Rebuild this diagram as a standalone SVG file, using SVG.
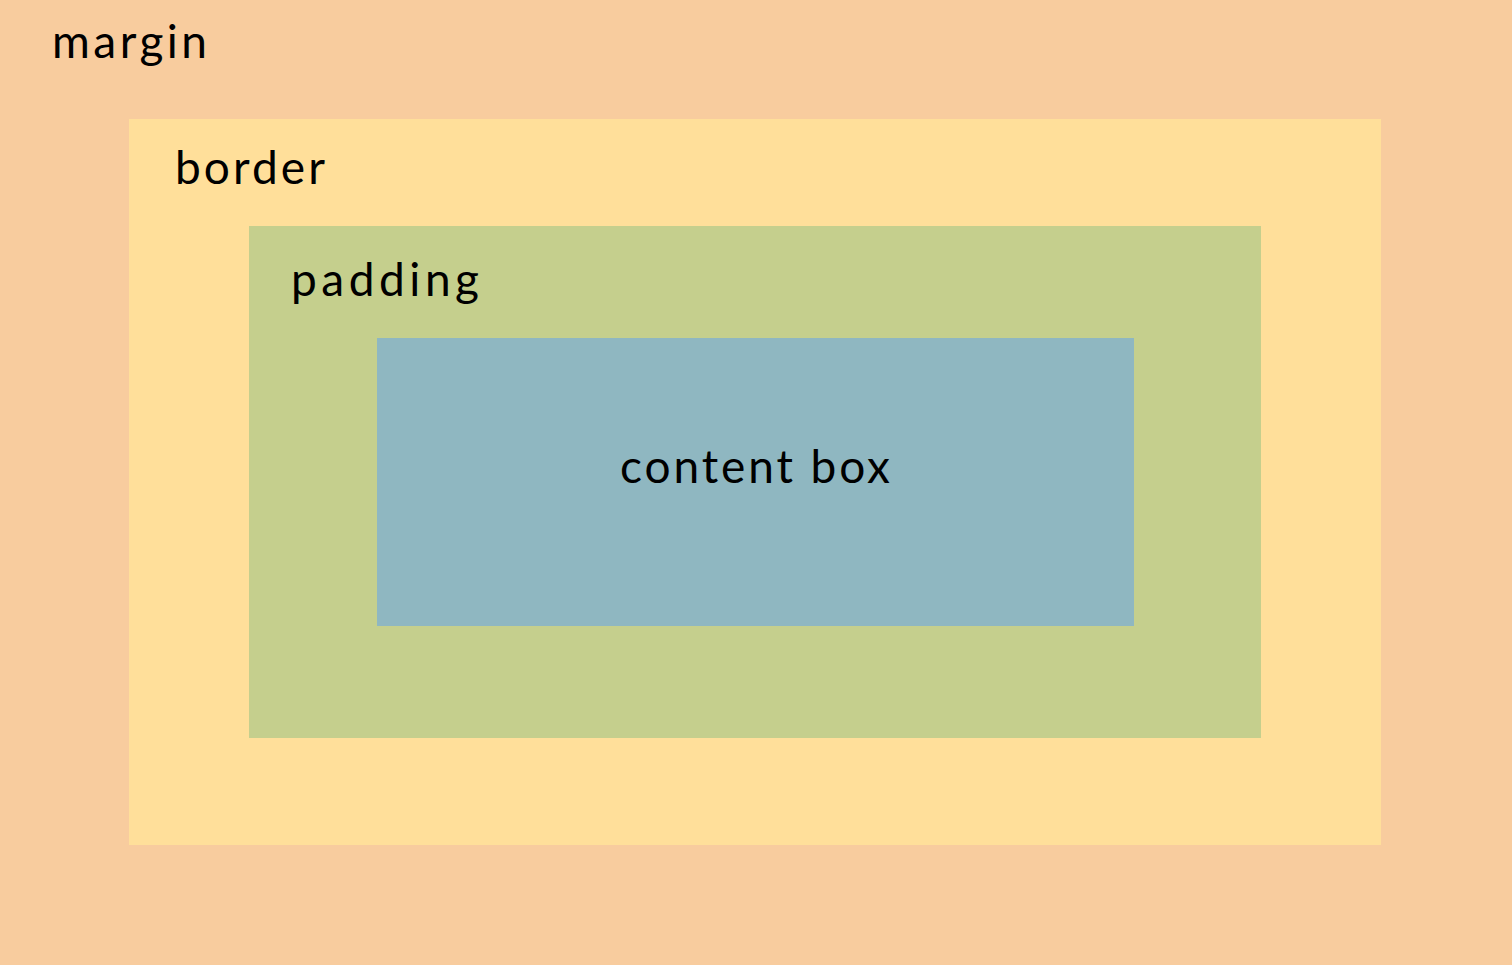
<svg xmlns="http://www.w3.org/2000/svg" width="1512" height="965" viewBox="0 0 1512 965">
<style>
text{font-family:"Lato","Liberation Sans",sans-serif;font-size:46px;fill:#000}
</style>
<g id="margin"><rect x="0" y="0" width="1512" height="965" fill="#F8CC9E"/><text x="52" y="58" textLength="155">margin</text></g>
<g id="border"><rect x="129" y="119" width="1252" height="726" fill="#FFDF9A"/><text x="175" y="184" textLength="150">border</text></g>
<g id="padding"><rect x="249" y="226" width="1012" height="512" fill="#C5CF8D"/><text x="291" y="296" textLength="188">padding</text></g>
<g id="content"><rect x="377" y="338" width="757" height="288" fill="#8FB7C1"/><text x="620" y="483" textLength="270">content box</text></g>
<g id="connectors"/>
</svg>
